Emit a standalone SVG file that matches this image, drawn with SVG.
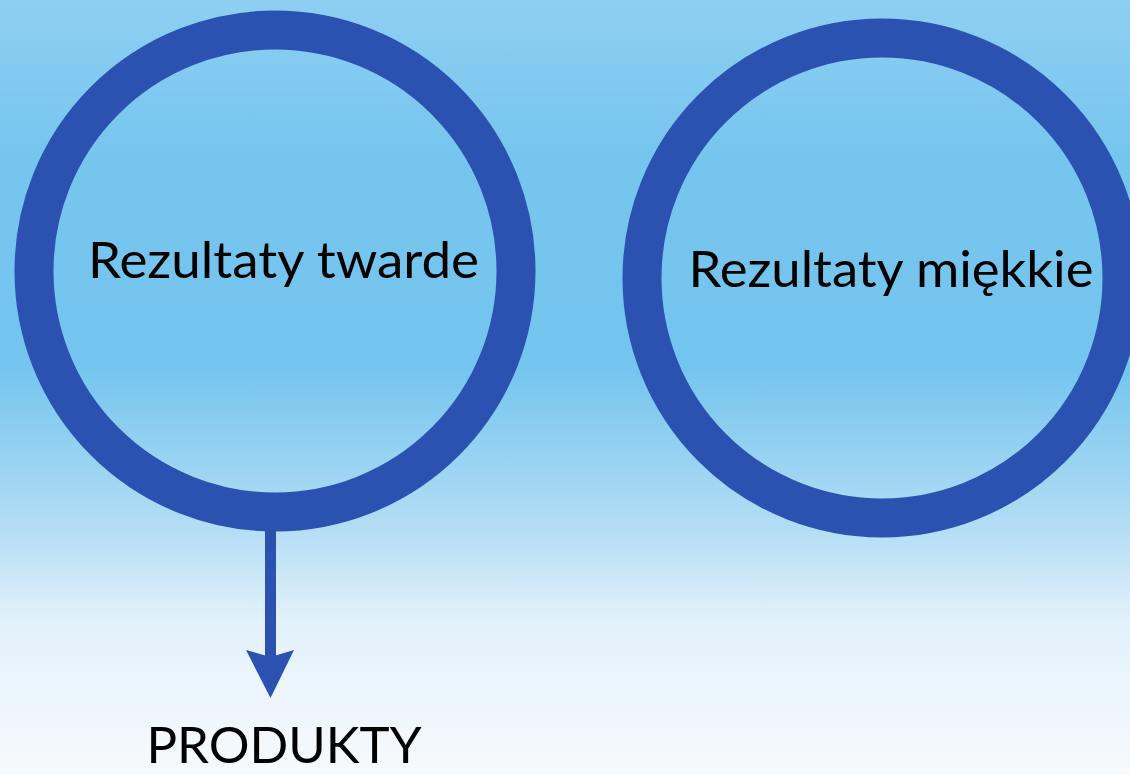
<svg xmlns="http://www.w3.org/2000/svg" width="1130" height="775" viewBox="0 0 1130 775">
<defs>
<linearGradient id="bg" x1="0" y1="0" x2="0" y2="1">
<stop offset="0" stop-color="#8ecff2"/>
<stop offset="0.2" stop-color="#76c5ef"/>
<stop offset="0.47" stop-color="#73c4ee"/>
<stop offset="0.68" stop-color="#b3ddf5"/>
<stop offset="0.8" stop-color="#e2f1fb"/>
<stop offset="1" stop-color="#f7fafd"/>
</linearGradient>
<style>
.ring{fill:none;stroke:#2b52b0;stroke-width:39}
.lbl{font-family:Lato,"Open Sans",sans-serif;font-size:50px;fill:#000;text-anchor:middle}
.conn{stroke:#2b52b0;stroke-width:11;fill:none}
.head{fill:#2b52b0}
</style>
</defs>
<rect width="1130" height="775" fill="url(#bg)"/>
<g id="node-twarde">
<circle class="ring" cx="275" cy="271" r="241"/>
<text class="lbl" x="283.5" y="278" textLength="391" lengthAdjust="spacingAndGlyphs">Rezultaty twarde</text>
</g>
<g id="node-miekkie">
<circle class="ring" cx="882" cy="278" r="240"/>
<text class="lbl" x="891" y="287" textLength="405" lengthAdjust="spacingAndGlyphs">Rezultaty miękkie</text>
</g>
<g id="node-produkty">
<text class="lbl" x="284" y="763" textLength="275" lengthAdjust="spacingAndGlyphs">PRODUKTY</text>
</g>
<g id="connectors">
<line class="conn" x1="270.5" y1="528" x2="270.5" y2="660"/>
<path class="head" d="M246,650 L270.5,657 L294,650 L270.5,698 Z"/>
</g>
</svg>
